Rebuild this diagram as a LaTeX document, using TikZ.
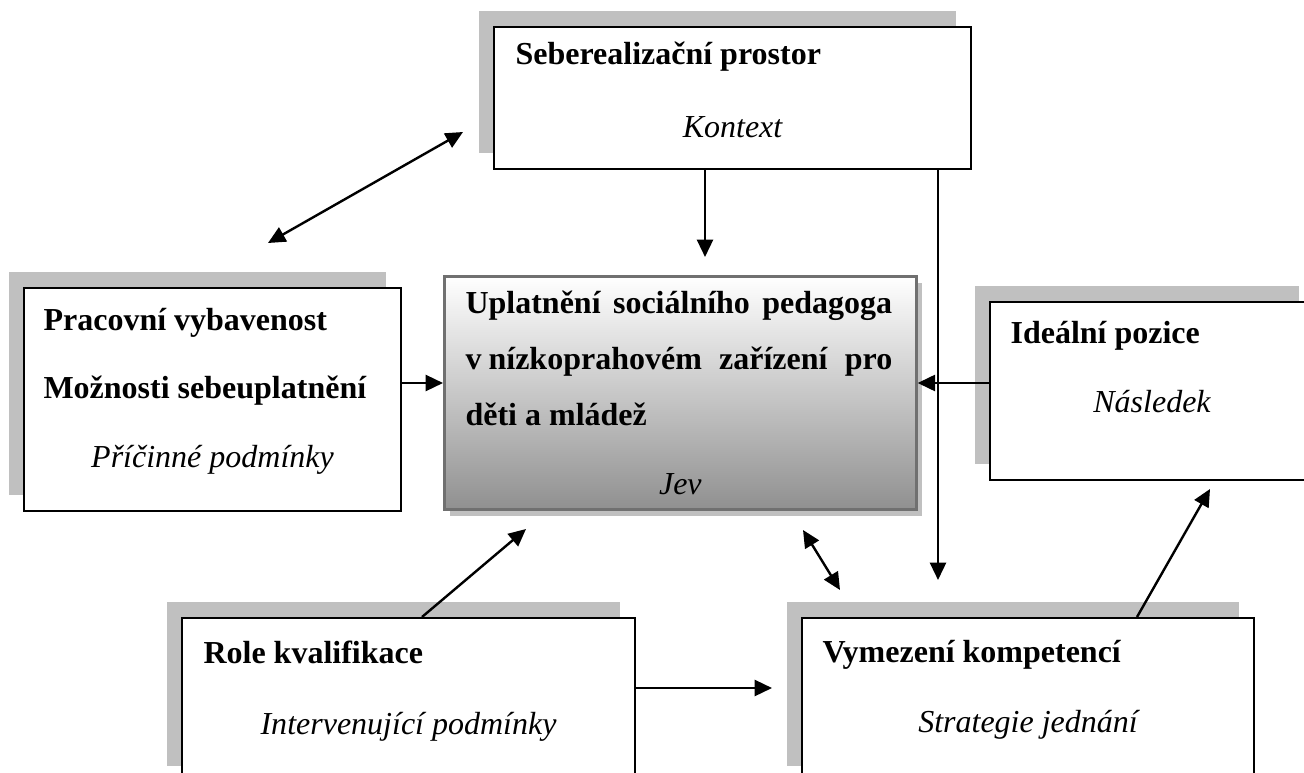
\documentclass[tikz,border=0pt]{standalone}
\usepackage{fontspec}
\setmainfont{Liberation Serif}
\usepackage{xcolor}
\definecolor{shadowgray}{HTML}{C0C0C0}
\definecolor{framegray}{HTML}{707070}
\definecolor{shadegray}{HTML}{909090}
\usepackage{tikz}
\usetikzlibrary{arrows.meta, shadows}

\begin{document}
\begin{tikzpicture}[x=0.375pt, y=-0.375pt,
  font=\fontsize{12}{14}\selectfont,
  box/.style={draw, line width=0.75pt, fill=white, inner sep=0pt, anchor=north west,
    general shadow={fill=shadowgray, shadow xshift=-5.6pt, shadow yshift=6pt}},
  jevbox/.style={draw=framegray, line width=1pt, top color=white, bottom color=shadegray,
    inner sep=0pt, anchor=north west,
    general shadow={fill=shadowgray, shadow xshift=2pt, shadow yshift=-2.4pt}},
  title/.style={anchor=base west, inner sep=0pt, font=\fontsize{12}{14}\selectfont\bfseries},
  kind/.style={anchor=base, inner sep=0pt, font=\fontsize{12}{14}\selectfont\itshape},
  arr/.style={-{Triangle[length=6.5pt,width=6pt]}, line width=0.9pt},
  dbl/.style={{Triangle[length=6.5pt,width=6pt]}-{Triangle[length=6.5pt,width=6pt]}, line width=0.9pt}]
  \useasboundingbox (0,0) rectangle (1304,773);
  \clip (0,0) rectangle (1304,773);

  % Kontext (top)
  \node[box, minimum width=178.9pt, minimum height=53.25pt] (kontext) at (493,26) {};
  \node[title] (sebe) at (515,65) {Seberealizační prostor};
  \node[kind] (kontextt) at (kontext.south |- 0,138) {Kontext};

  % Pricinne podminky (left)
  \node[box, minimum width=141.4pt, minimum height=83.6pt] (pricina) at (23,287) {};
  \node[title] (pracovni) at (43,330) {Pracovní vybavenost};
  \node[title] (moznosti) at (43,398) {Možnosti sebeuplatnění};
  \node[kind] (pricinat) at (pricina.south |- 0,467) {Příčinné podmínky};

  % Jev (centre)
  \node[jevbox, minimum width=177pt, minimum height=87.4pt] (jev) at (443,275) {};
  \node[title] (jev1) at (465,313) {\makebox[160pt][s]{Uplatnění sociálního pedagoga}};
  \node[title] (jev2) at (465,369) {\makebox[160pt][s]{v\hspace{0.22em}nízkoprahovém zařízení pro}};
  \node[title] (jev3) at (465,425) {děti a mládež};
  \node[kind] (jevt) at (jev.south |- 0,494) {Jev};

  % Nasledek (right)
  \node[box, minimum width=121.5pt, minimum height=66.75pt] (nasledek) at (989,301) {};
  \node[title] (idealni) at (1010,343) {Ideální pozice};
  \node[kind] (nasledekt) at (nasledek.south |- 0,412) {Následek};

  % Intervenujici podminky (bottom left)
  \node[box, minimum width=169.9pt, minimum height=61.5pt] (intervence) at (181,617) {};
  \node[title] (role) at (203,663) {Role kvalifikace};
  \node[kind] (intervencet) at (intervence.south |- 0,734) {Intervenující podmínky};

  % Strategie jednani (bottom right)
  \node[box, minimum width=169.5pt, minimum height=61.5pt] (strategie) at (801,617) {};
  \node[title] (vymezeni) at (822,662) {Vymezení kompetencí};
  \node[kind] (strategiet) at (strategie.south |- 0,732) {Strategie jednání};

  % free ends of the connectors
  \coordinate (kj) at (705,257);
  \coordinate (ks) at (938,580);
  \coordinate (pj) at (0,383);
  \coordinate (ia) at (422,0);
  \coordinate (ij) at (526,529);
  \coordinate (is) at (772,688);
  \coordinate (sa) at (1137,0);
  \coordinate (sn) at (1210,489);
  \coordinate (ka) at (463,132);
  \coordinate (kb) at (268,243);
  \coordinate (ja) at (803,530);
  \coordinate (jb) at (840,590);

  % connectors
  \draw[dbl] (kb) -- (ka);
  \draw[arr] (kontext.south -| kj) -- (kj);
  \draw[arr] (kontext.south -| ks) -- (ks);
  \draw[arr] (pricina.east |- pj) -- (jev.west |- pj);
  \draw[arr] (nasledek.west |- pj) -- (jev.east |- pj);
  \draw[arr] (intervence.north -| ia) -- (ij);
  \draw[arr] (intervence.east |- is) -- (is);
  \draw[dbl] (ja) -- (jb);
  \draw[arr] (strategie.north -| sa) -- (sn);
\end{tikzpicture}
\end{document}
